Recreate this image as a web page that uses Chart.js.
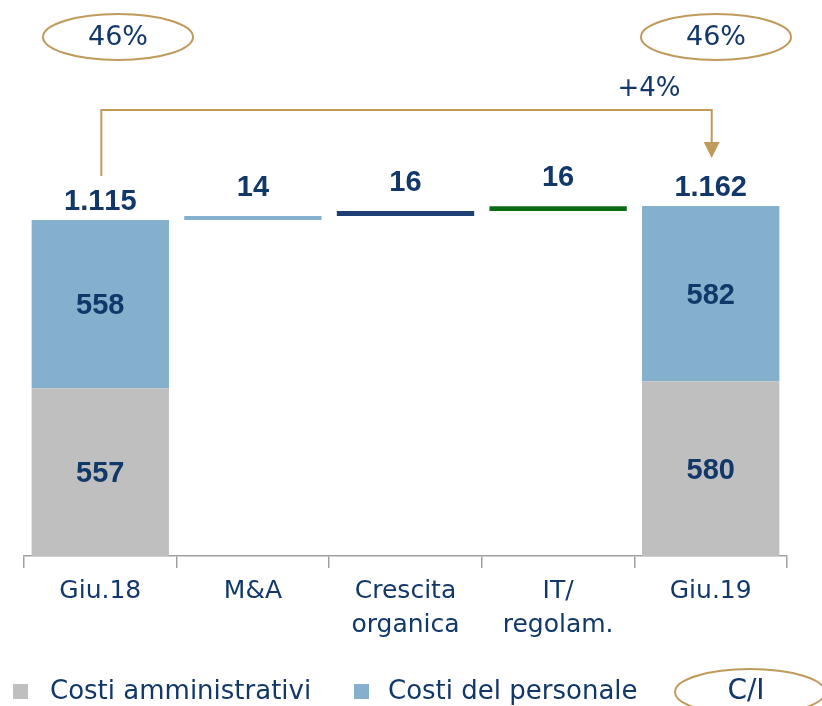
<!DOCTYPE html>
<html>
<head>
<meta charset="utf-8">
<script src="https://cdn.jsdelivr.net/npm/chart.js@4"></script>
<style>
  html, body { margin: 0; padding: 0; background: #fff; }
  canvas { display: block; }
</style>
</head>
<body>
<canvas id="costChart" width="822" height="706"></canvas>
<script>
// data
const categories = ["Giu.18", "M&A", ["Crescita", "organica"], ["IT/", "regolam."], "Giu.19"];
const costiAmministrativi = [557, null, null, null, 580];
const costiPersonale = [558, null, null, null, 582];
const variazioni = [null, 14, 16, 16, null];
const totali = [1115, null, null, null, 1162];
const ratioCI = ["46%", "46%"];
const crescitaLabel = "+4%";
const legendLabels = ["Costi amministrativi", "Costi del personale", "C/I"];

const NAVY = "#12386a";
const GOLD = "#bf9a5b";
const GREY = "#bfbfbf";
const BLUE = "#84b0cd";
const deltaColors = [null, "#84b0cd", "#1d3f73", "#0b6b16", null];

// waterfall: floating bars built from the arrays above
const adminBars = costiAmministrativi.map(v => v == null ? null : [0, v]);
const personaleBars = costiPersonale.map((v, i) => v == null ? null : [costiAmministrativi[i], costiAmministrativi[i] + v]);
let running = totali[0];
const deltaBars = variazioni.map(v => {
  if (v == null) return null;
  const bar = [running, running + v];
  running += v;
  return bar;
});

function fmt(n) {
  return String(n).replace(/\B(?=(\d{3})+(?!\d))/g, ".");
}

const labelsPlugin = {
  id: "labels",
  afterDatasetsDraw(chart) {
    const ctx = chart.ctx;
    ctx.save();
    ctx.fontKerning = "none";
    ctx.fillStyle = NAVY;
    ctx.textAlign = "center";
    ctx.textBaseline = "middle";
    ctx.font = "bold 29px 'Liberation Sans'";

    // values inside the stacked bars
    [0, 1].forEach(di => {
      const src = di === 0 ? costiAmministrativi : costiPersonale;
      chart.getDatasetMeta(di).data.forEach((el, i) => {
        if (src[i] == null) return;
        ctx.fillText(String(src[i]), el.x, (el.y + el.base) / 2 + 2);
      });
    });

    // totals on top
    chart.getDatasetMeta(1).data.forEach((el, i) => {
      if (totali[i] == null) return;
      ctx.fillText(fmt(totali[i]), el.x, el.y - 18);
    });

    // deltas
    chart.getDatasetMeta(2).data.forEach((el, i) => {
      if (variazioni[i] == null) return;
      ctx.fillText(String(variazioni[i]), el.x, el.y - 28);
    });
    ctx.restore();
  },
  afterDraw(chart) {
    const ctx = chart.ctx;
    const xs = chart.scales.x;
    const x0 = xs.getPixelForValue(0);
    const x4 = xs.getPixelForValue(4);
    ctx.save();

    // bracket with arrow
    ctx.strokeStyle = GOLD;
    ctx.lineWidth = 2;
    ctx.beginPath();
    ctx.moveTo(x0 + 1, 176);
    ctx.lineTo(x0 + 1, 110);
    ctx.lineTo(x4 + 1, 110);
    ctx.lineTo(x4 + 1, 144);
    ctx.stroke();
    ctx.fillStyle = GOLD;
    ctx.beginPath();
    ctx.moveTo(x4 + 1 - 8, 142);
    ctx.lineTo(x4 + 1 + 8, 142);
    ctx.lineTo(x4 + 1, 158);
    ctx.closePath();
    ctx.fill();

    ctx.fillStyle = NAVY;
    ctx.textAlign = "center";
    ctx.textBaseline = "middle";
    ctx.font = "26px 'DejaVu Sans'";
    ctx.fillText(crescitaLabel, 649, 89);

    // C/I ovals
    [[118, ratioCI[0]], [716, ratioCI[1]]].forEach(([cx, txt]) => {
      ctx.beginPath();
      ctx.ellipse(cx, 37, 75, 23, 0, 0, Math.PI * 2);
      ctx.strokeStyle = GOLD;
      ctx.lineWidth = 2;
      ctx.stroke();
      ctx.fillStyle = NAVY;
      ctx.font = "27px 'DejaVu Sans'";
      ctx.fillText(txt, cx, 38);
    });

    // legend
    ctx.textAlign = "left";
    ctx.textBaseline = "alphabetic";
    ctx.font = "26px 'DejaVu Sans'";
    ctx.fillStyle = GREY;
    ctx.fillRect(13, 684, 15, 15);
    ctx.fillStyle = NAVY;
    ctx.fillText(legendLabels[0], 50, 699);
    ctx.fillStyle = BLUE;
    ctx.fillRect(354, 684, 15, 15);
    ctx.fillStyle = NAVY;
    ctx.fillText(legendLabels[1], 388, 699);

    ctx.beginPath();
    ctx.ellipse(750, 692, 75, 23, 0, 0, Math.PI * 2);
    ctx.strokeStyle = GOLD;
    ctx.lineWidth = 2;
    ctx.stroke();
    ctx.textAlign = "center";
    ctx.font = "28px 'DejaVu Sans'";
    ctx.fillText(legendLabels[2], 746, 699);
    ctx.restore();
  }
};

new Chart(document.getElementById("costChart"), {
  type: "bar",
  data: {
    labels: categories,
    datasets: [
      { label: legendLabels[0], data: adminBars, backgroundColor: GREY },
      { label: legendLabels[1], data: personaleBars, backgroundColor: BLUE },
      { label: "Variazioni", data: deltaBars, backgroundColor: deltaColors }
    ]
  },
  options: {
    responsive: false,
    animation: false,
    devicePixelRatio: 1,
    layout: { padding: { left: 24, right: 35, top: 74, bottom: 0 } },
    datasets: {
      bar: { grouped: false, categoryPercentage: 1, barPercentage: 0.9, borderWidth: 0 }
    },
    plugins: {
      legend: { display: false },
      tooltip: { enabled: false }
    },
    scales: {
      x: {
        afterFit: scale => { scale.height = 150; },
        grid: { drawOnChartArea: false, drawTicks: true, tickLength: 12, offset: true, color: "#a0a0a0", lineWidth: 1.5 },
        border: { display: true, color: "#a0a0a0", width: 1.5 },
        ticks: {
          color: NAVY,
          padding: 6,
          maxRotation: 0,
          autoSkip: false,
          font: { family: "'DejaVu Sans'", size: 25, lineHeight: 1.36 }
        }
      },
      y: {
        display: false,
        min: 0,
        max: 1600
      }
    }
  },
  plugins: [labelsPlugin]
});
</script>
</body>
</html>
